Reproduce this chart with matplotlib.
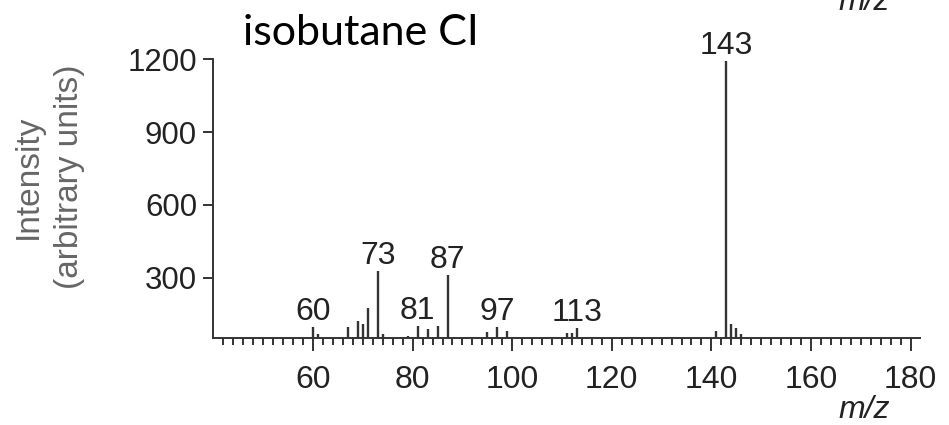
import matplotlib
matplotlib.use("Agg")
import matplotlib.pyplot as plt
from matplotlib.ticker import FixedLocator

# m/z values and intensities (arbitrary units)
mz = [60, 61, 67, 69, 70, 71, 73, 74, 79, 81, 83, 85, 87,
      95, 97, 99, 111, 112, 113, 141, 143, 144, 145, 146]
intensity = [96, 68, 96, 123, 110, 174, 329, 68, 62, 102, 87, 102, 311,
             78, 98, 80, 71, 72, 95, 80, 1195, 108, 95, 68]
labeled_mz = [60, 73, 81, 87, 97, 113, 143]
xticks = [60, 80, 100, 120, 140, 160, 180]
minor_xticks = list(range(42, 182, 2))
yticks = [300, 600, 900, 1200]
y_floor = 53

plt.rcParams['font.family'] = ['Liberation Sans', 'DejaVu Sans']
dark = '#333333'
txt = '#222222'

W, H = 949, 425
fig = plt.figure(figsize=(W / 100, H / 100), dpi=100)
left, right, bottom, top = 213, 920, 337.7, 59.3
ax = fig.add_axes([left / W, 1 - bottom / H, (right - left) / W, (bottom - top) / H])

ax.vlines(mz, y_floor, intensity, color=dark, lw=1.7)
ax.set_xlim(39.9, 181.9)
ax.set_ylim(y_floor, 1200)

for s in ['top', 'right']:
    ax.spines[s].set_visible(False)
for s in ['left', 'bottom']:
    ax.spines[s].set_linewidth(1.4)
    ax.spines[s].set_color(dark)

ax.xaxis.set_major_locator(FixedLocator(xticks))
ax.xaxis.set_minor_locator(FixedLocator(minor_xticks))
ax.yaxis.set_major_locator(FixedLocator(yticks))
ax.tick_params(axis='x', which='major', direction='out', length=9, width=1.4,
               pad=11, labelsize=23, color=dark, labelcolor=txt)
ax.tick_params(axis='x', which='minor', direction='out', length=5, width=1.4, color=dark)
ax.tick_params(axis='y', which='major', direction='out', length=7.5, width=1.4,
               pad=4, labelsize=22.5, color=dark, labelcolor=txt)

for m in labeled_mz:
    h = intensity[mz.index(m)]
    ax.annotate(str(m), (m, h), xytext=(0, 5), textcoords='offset points',
                ha='center', va='baseline', fontsize=23, color=txt)

fig.text(49 / W, 1 - 177 / H, "Intensity\n(arbitrary units)", rotation=90,
         ha='center', va='center', multialignment='center', fontsize=24,
         color='#666666', linespacing=1.45)

fig.text(243 / W, 1 - 45 / H, "isobutane CI", fontsize=31, family=['Lato', 'DejaVu Sans'],
         ha='left', va='baseline', color='black')

fig.text(838 / W, 1 - 418 / H, "m/z", fontsize=23, style='italic', ha='left',
         va='baseline', color=txt)
fig.text(838 / W, 1 - 10 / H, "m/z", fontsize=23, style='italic', ha='left',
         va='baseline', color=txt)

fig.savefig("out.png", dpi=100)
